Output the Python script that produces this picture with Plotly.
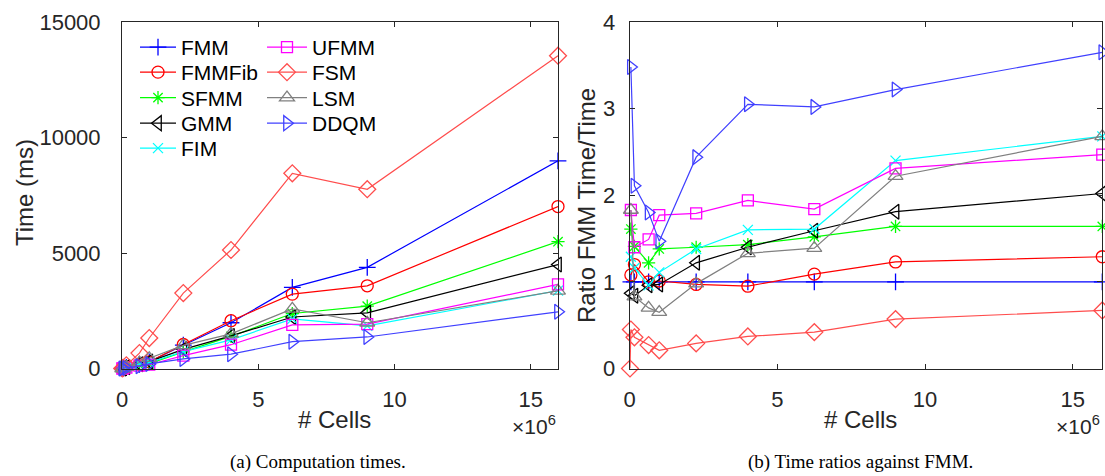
import plotly.graph_objects as go

# ---------------- data ----------------
cells = [0.01e6, 0.04e6, 0.16e6, 0.64e6, 1.0e6, 2.25e6, 4.0e6, 6.25e6, 9.0e6, 16.0e6]

names = ["FMM", "FMMFib", "SFMM", "GMM", "FIM", "UFMM", "FSM", "LSM", "DDQM"]

# Computation times (ms)
t_FMM    = [0, 12, 50, 180, 290, 1010, 1980, 3510, 4380, 8990]
t_FMMFib = [0, 11, 42, 180, 287, 1040, 2070, 3220, 3580, 7010]
t_SFMM   = [0, 7, 35, 148, 210, 720, 1390, 2380, 2700, 5490]
t_GMM    = [0, 14, 60, 188, 300, 830, 1410, 2230, 2410, 4500]
t_FIM    = [0, 9, 43, 188, 261, 732, 1240, 2150, 1850, 3370]
t_UFMM   = [0, 7, 36, 121, 164, 560, 1030, 1890, 1920, 3640]
t_FSM    = [3, 27, 139, 667, 1320, 3264, 5130, 8450, 7760, 13540]
t_LSM    = [0, 7, 60, 257, 446, 1000, 1500, 2580, 1980, 3360]
t_DDQM   = [0, 3, 24, 100, 197, 414, 620, 1160, 1365, 2455]

# Ratio FMM time / time
r_FMM    = [None, 1, 1, 1, 1, 1, 1, 1, 1, 1]
r_FMMFib = [None, 1.08, 1.20, 1.00, 1.01, 0.97, 0.95, 1.09, 1.23, 1.29]
r_SFMM   = [None, 1.61, 1.41, 1.22, 1.38, 1.40, 1.43, 1.52, 1.64, 1.64]
r_GMM    = [None, 0.87, 0.84, 0.96, 0.97, 1.22, 1.40, 1.59, 1.81, 2.02]
r_FIM    = [None, 1.29, 1.16, 0.96, 1.11, 1.38, 1.60, 1.61, 2.40, 2.68]
r_UFMM   = [None, 1.83, 1.40, 1.49, 1.77, 1.79, 1.94, 1.84, 2.31, 2.47]
r_FSM    = [0, 0.45, 0.36, 0.27, 0.21, 0.29, 0.37, 0.42, 0.57, 0.67]
r_LSM    = [None, 1.83, 0.83, 0.70, 0.65, 0.98, 1.33, 1.39, 2.22, 2.68]
r_DDQM   = [None, 3.48, 2.11, 1.80, 1.47, 2.44, 3.05, 3.02, 3.22, 3.65]

times = [t_FMM, t_FMMFib, t_SFMM, t_GMM, t_FIM, t_UFMM, t_FSM, t_LSM, t_DDQM]
ratios = [r_FMM, r_FMMFib, r_SFMM, r_GMM, r_FIM, r_UFMM, r_FSM, r_LSM, r_DDQM]

x_ticks = [0, 5e6, 10e6, 15e6]
x_ticktext = ["0", "5", "10", "15"]
yl_ticks = [0, 5000, 10000, 15000]
yl_ticktext = ["0", "5000", "10000", "15000"]
yr_ticks = [0, 1, 2, 3, 4]

# ---------------- styles ----------------
colors = ["#0000FF", "#FF0000", "#00FF00", "#000000", "#00FFFF",
          "#FF00FF", "#FF4D4D", "#808080", "#4040FF"]
symbols = ["cross-thin-open", "circle-open", "asterisk-open", "triangle-left-open",
           "x-thin-open", "square-open", "diamond-open", "triangle-up-open",
           "triangle-right-open"]
sizes = [12, 12, 11, 13, 10, 11, 13, 13, 13]

W, H = 1105, 476
def px(xp):
    return xp / W
def py(yp):
    return (H - yp) / H

# legend placement (pixel): left column rows, right column rows
row_y = [47.5, 72.5, 98, 123.5, 148.5]
leg_pos = [(135, row_y[0], 36), (135, row_y[1], 36), (135, row_y[2], 36),
           (135, row_y[3], 36), (135, row_y[4], 36),
           (262, row_y[0], 40), (262, row_y[1], 40), (262, row_y[2], 40),
           (262, row_y[3], 40)]

FONT = "Liberation Sans, Arial, Helvetica, sans-serif"
AX = "#262626"

fig = go.Figure()
for i, n in enumerate(names):
    lid = "legend" if i == 0 else "legend%d" % (i + 1)
    fig.add_trace(go.Scatter(
        x=cells, y=times[i], xaxis="x", yaxis="y", legend=lid, showlegend=True,
        mode="lines+markers", name=n, cliponaxis=False,
        line=dict(color=colors[i], width=1.2),
        marker=dict(symbol=symbols[i], size=sizes[i], color=colors[i],
                    line=dict(color=colors[i], width=1.3))))
for i, n in enumerate(names):
    fig.add_trace(go.Scatter(
        x=cells, y=ratios[i], xaxis="x2", yaxis="y2", showlegend=False,
        mode="lines+markers", name=n, cliponaxis=False,
        line=dict(color=colors[i], width=1.2),
        marker=dict(symbol=symbols[i], size=sizes[i], color=colors[i],
                    line=dict(color=colors[i], width=1.3))))

axis_common = dict(showgrid=False, zeroline=False, showline=True, mirror="ticks",
                   linecolor=AX, linewidth=1, ticks="inside", ticklen=5,
                   automargin=False,
                   tickcolor=AX, tickfont=dict(family=FONT, size=22, color=AX))

layout = dict(
    width=W, height=H,
    margin=dict(l=0, r=0, t=0, b=0, autoexpand=False),
    paper_bgcolor="white", plot_bgcolor="white",
    xaxis=dict(domain=[px(122), px(558)], range=[0, 16e6], anchor="y",
               tickvals=x_ticks, ticktext=x_ticktext, ticklabelstandoff=11, **axis_common),
    yaxis=dict(domain=[py(368.5), py(22)], range=[0, 15000], anchor="x",
               tickvals=yl_ticks, ticktext=yl_ticktext, ticklabelstandoff=16, **axis_common),
    xaxis2=dict(domain=[px(629.7), px(1102.3)], range=[0, 16e6], anchor="y2",
                tickvals=x_ticks, ticktext=x_ticktext, ticklabelstandoff=11, **axis_common),
    yaxis2=dict(domain=[py(368.5), py(22)], range=[0, 4], anchor="x2",
                tickvals=yr_ticks, ticklabelstandoff=9, **axis_common),
)
for i in range(len(names)):
    lid = "legend" if i == 0 else "legend%d" % (i + 1)
    lx, ly, iw = leg_pos[i]
    layout[lid] = dict(x=px(lx), y=py(ly), xanchor="left", yanchor="middle",
                       bgcolor="rgba(255,255,255,0)", borderwidth=0,
                       font=dict(family=FONT, size=21, color="#000000"),
                       itemwidth=iw)
fig.update_layout(**layout)

def note(text, x, y, size, angle=0, xanchor="center", family=FONT, color=AX):
    return dict(text=text, x=px(x), y=py(y), xref="paper", yref="paper",
                xanchor=xanchor, yanchor="middle", textangle=angle, showarrow=False,
                font=dict(family=family, size=size, color=color))

SERIF = "Liberation Serif, Times New Roman, serif"
ann = [
    note("Time (ms)", 24, 193, 24, angle=-90),
    note("Ratio FMM Time/Time", 586, 206, 24, angle=-90),
    note("# Cells", 334, 419, 24),
    note("# Cells", 860, 419, 24),
    note("\u00d710<sup>6</sup>", 558, 425, 21, xanchor="right"),
    note("\u00d710<sup>6</sup>", 1102, 425, 21, xanchor="right"),
    note("(a) Computation times.", 318, 462, 19, family=SERIF, color="#000000"),
    note("(b) Time ratios against FMM.", 860, 462, 19, family=SERIF, color="#000000"),
]
fig.update_layout(annotations=ann)

fig.write_html("out.html")
